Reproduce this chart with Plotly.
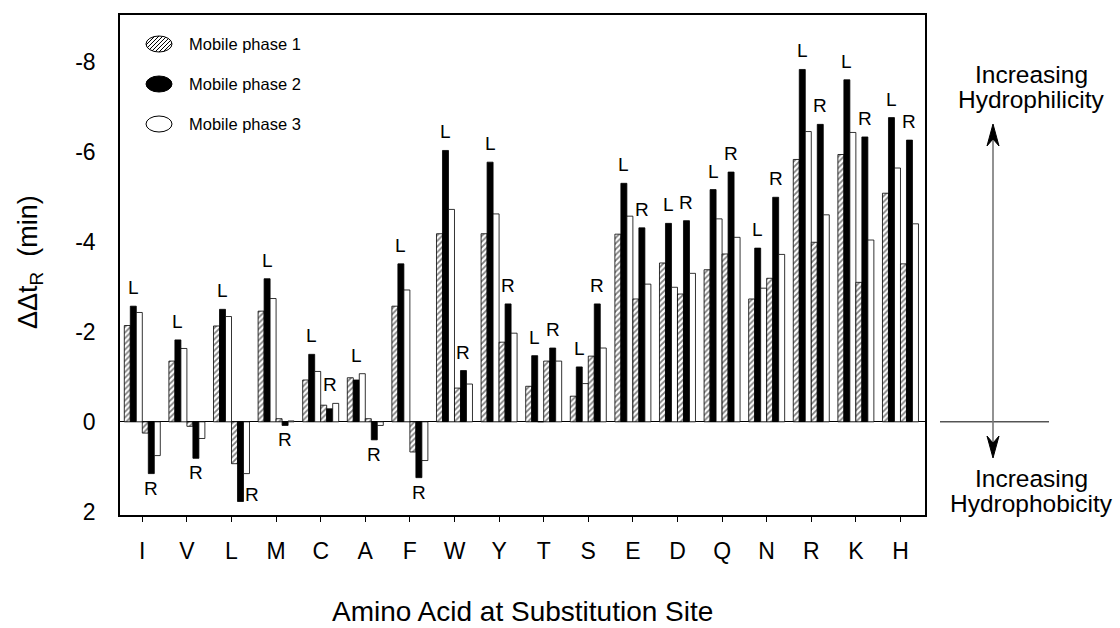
import plotly.graph_objects as go
import math

categories = ["I", "V", "L", "M", "C", "A", "F", "W", "Y", "T", "S", "E", "D", "Q", "N", "R", "K", "H"]

# L-substituted peptides, three mobile phases (ΔΔtR, min)
L_phase1 = [-2.14, -1.35, -2.13, -2.46, -0.93, -0.98, -2.57, -4.18, -4.18, -0.79, -0.57, -4.17, -3.53, -3.38, -2.73, -5.83, -5.94, -5.08]
L_phase2 = [-2.57, -1.82, -2.50, -3.18, -1.50, -0.93, -3.51, -6.03, -5.77, -1.47, -1.22, -5.30, -4.41, -5.16, -3.86, -7.83, -7.60, -6.76]
L_phase3 = [-2.43, -1.63, -2.34, -2.74, -1.12, -1.07, -2.93, -4.72, -4.62, 0.00, -0.85, -4.57, -2.99, -4.51, -2.97, -6.45, -6.43, -5.64]
# R-substituted peptides
R_phase1 = [0.25, 0.10, 0.93, -0.07, -0.37, -0.07, 0.67, -0.75, -1.77, -1.35, -1.46, -2.73, -2.84, -3.73, -3.19, -3.99, -3.10, -3.51]
R_phase2 = [1.15, 0.81, 1.77, 0.08, -0.29, 0.40, 1.24, -1.14, -2.62, -1.64, -2.62, -4.31, -4.47, -5.55, -4.99, -6.61, -6.33, -6.26]
R_phase3 = [0.75, 0.37, 1.15, -0.02, -0.41, 0.08, 0.86, -0.84, -1.97, -1.35, -1.64, -3.06, -3.30, -4.10, -3.72, -4.60, -4.04, -4.40]

y_ticks = [2, 0, -2, -4, -6, -8]
legend_names = ["Mobile phase 1", "Mobile phase 2", "Mobile phase 3"]

FONT = "Liberation Sans, Arial, sans-serif"
W, H = 1120, 628
ML, MR, MT, MB = 120, 195, 15, 113
PW, PH = W - ML - MR, H - MT - MB
BARGAP = 0.193

def px2paper_x(px):
    return (px - ML) / PW

def px2paper_y(py):
    return (H - MB - py) / PH

x = list(range(len(categories)))

hatch = dict(color="white", line=dict(color="black", width=0.8),
             pattern=dict(shape="/", fgcolor="black", bgcolor="white", size=4, solidity=0.45))
solid = dict(color="black", line=dict(color="black", width=0.8))
hollow = dict(color="white", line=dict(color="black", width=0.8))
styles = [hatch, solid, hollow]

fig = go.Figure()
series = [L_phase1, L_phase2, L_phase3, R_phase1, R_phase2, R_phase3]
for k, vals in enumerate(series):
    fig.add_trace(go.Bar(x=x, y=vals, marker=styles[k % 3], showlegend=False,
                         name=legend_names[k % 3]))

# L / R labels
group_w = 1 - BARGAP
bar_w = group_w / 6
annotations = []
special = {(2, "R"): dict(xshift=12, yanchor="middle", yshift=7)}
lab_font = dict(size=19, family=FONT, color="black")
for i in range(len(categories)):
    for side, trip, off in (("L", (L_phase1, L_phase2, L_phase3), -group_w / 2 + 1.5 * bar_w),
                            ("R", (R_phase1, R_phase2, R_phase3), 1.5 * bar_w)):
        vals = [t[i] for t in trip]
        xc = i + off
        if (i, side) in special:
            s = special[(i, side)]
            annotations.append(dict(x=xc, y=max(vals), xref="x", yref="y", text=side,
                                    showarrow=False, font=lab_font, xanchor="center", **s))
        elif trip[1][i] < 0:
            annotations.append(dict(x=xc, y=min(vals), xref="x", yref="y", text=side,
                                    showarrow=False, font=lab_font, yanchor="bottom", yshift=6))
        else:
            annotations.append(dict(x=xc, y=max(vals), xref="x", yref="y", text=side,
                                    showarrow=False, font=lab_font, yanchor="top", yshift=-2))

# legend text
leg_rows = [44, 84, 124]
for name, py in zip(legend_names, leg_rows):
    annotations.append(dict(x=px2paper_x(187), y=px2paper_y(py), xref="paper", yref="paper",
                            text=name, showarrow=False, xanchor="left", yanchor="middle",
                            font=dict(size=16.5, family=FONT, color="black")))

# right-side annotations
for txt, py in (("Increasing", 74), ("Hydrophilicity", 99), ("Increasing", 478), ("Hydrophobicity", 503)):
    annotations.append(dict(x=px2paper_x(1031), y=px2paper_y(py), xref="paper", yref="paper",
                            text=txt, showarrow=False, xanchor="center", yanchor="middle",
                            font=dict(size=24.5, family=FONT, color="black")))

# axis titles
annotations.append(dict(x=0.5, y=px2paper_y(611), xref="paper", yref="paper",
                        text="Amino Acid at Substitution Site", showarrow=False,
                        xanchor="center", yanchor="middle",
                        font=dict(size=28, family=FONT, color="black")))
annotations.append(dict(x=px2paper_x(30), y=px2paper_y(262), xref="paper", yref="paper",
                        text="ΔΔt<sub>R</sub>  (min)", showarrow=False, textangle=-90,
                        xanchor="center", yanchor="middle",
                        font=dict(size=27, family=FONT, color="black")))

shapes = []
# zero line extension on the right
shapes.append(dict(type="line", xref="paper", yref="y", x0=px2paper_x(940), x1=px2paper_x(1049),
                   y0=0, y1=0, line=dict(color="black", width=1)))

# double-headed arrow (line + two arrowheads)
ax_px, top_px, bot_px = 993, 124, 458
shapes.append(dict(type="line", xref="paper", yref="paper",
                   x0=px2paper_x(ax_px), x1=px2paper_x(ax_px),
                   y0=px2paper_y(top_px + 10), y1=px2paper_y(bot_px - 10),
                   line=dict(color="#777", width=1.6)))
for tip, sgn in ((top_px, -1), (bot_px, 1)):
    shapes.append(dict(type="path", xref="paper", yref="paper", xsizemode="pixel", ysizemode="pixel",
                       xanchor=px2paper_x(ax_px), yanchor=px2paper_y(tip),
                       path=f"M 0 0 L -6 {sgn*22} L 0 {sgn*15} L 6 {sgn*22} Z",
                       fillcolor="black", line=dict(color="black", width=1)))

# legend ellipses
a, b = 13, 8
for k, py in enumerate(leg_rows):
    cx, cy = px2paper_x(159), px2paper_y(py)
    fill = ["white", "black", "white"][k]
    shapes.append(dict(type="circle", xref="paper", yref="paper", xsizemode="pixel", ysizemode="pixel",
                       xanchor=cx, yanchor=cy, x0=-a, x1=a, y0=-b, y1=b,
                       fillcolor=fill, line=dict(color="black", width=1)))
    if k == 0:
        A = 1 / a ** 2 + 1 / b ** 2
        c = -20
        while c <= 20:
            Bq = -2 * c / b ** 2
            Cq = c ** 2 / b ** 2 - 1
            disc = Bq ** 2 - 4 * A * Cq
            if disc > 0:
                x1 = (-Bq - math.sqrt(disc)) / (2 * A)
                x2 = (-Bq + math.sqrt(disc)) / (2 * A)
                shapes.append(dict(type="line", xref="paper", yref="paper", xsizemode="pixel",
                                   ysizemode="pixel", xanchor=cx, yanchor=cy,
                                   x0=x1, x1=x2, y0=x1 - c, y1=x2 - c,
                                   line=dict(color="black", width=1)))
            c += 4

fig.update_layout(
    width=W, height=H,
    margin=dict(l=ML, r=MR, t=MT, b=MB, pad=0),
    paper_bgcolor="white", plot_bgcolor="white",
    barmode="group", bargap=BARGAP, bargroupgap=0,
    font=dict(family=FONT, color="black"),
    annotations=annotations, shapes=shapes, showlegend=False,
    xaxis=dict(range=[-0.5, 17.55], tickmode="array", tickvals=x, ticktext=categories,
               ticks="outside", ticklen=5, tickwidth=1, tickcolor="black",
               showline=True, linecolor="black", linewidth=1.5, mirror=True,
               showgrid=False, zeroline=False, tickfont=dict(size=23, family=FONT),
               ticklabelstandoff=10),
    yaxis=dict(range=[2.07, -9.04], tickmode="array", tickvals=y_ticks,
               ticktext=[str(v) for v in y_ticks], ticks="",
               showline=True, linecolor="black", linewidth=1.5, mirror=True,
               showgrid=False, zeroline=True, zerolinecolor="black", zerolinewidth=1,
               tickfont=dict(size=23, family=FONT), ticklabelstandoff=18),
)

fig.write_html("out.html")
